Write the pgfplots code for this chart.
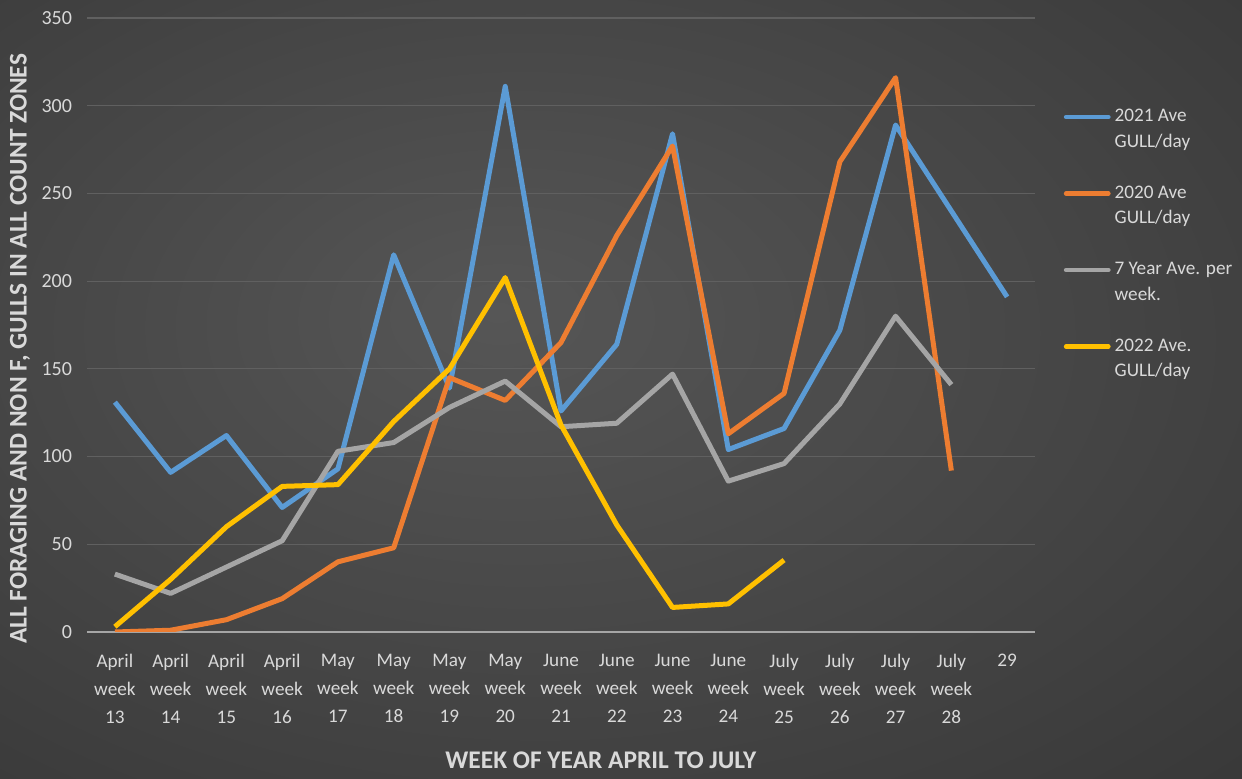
\documentclass[border=0pt]{standalone}
\usepackage{pgfplots}
\pgfplotsset{compat=1.18}
\usepackage{pgfplotstable}
\usepackage{fontspec}
\setmainfont{Carlito}
\definecolor{bgin}{HTML}{565656}
\definecolor{bgout}{HTML}{1E1E1E}
\definecolor{c21}{HTML}{5B9BD5}
\definecolor{c20}{HTML}{ED7D31}
\definecolor{c7}{HTML}{A5A5A5}
\definecolor{c22}{HTML}{FFC000}
\definecolor{tickc}{HTML}{D9D9D9}
\definecolor{gridc}{HTML}{606060}
\definecolor{axc}{HTML}{A6A6A6}
\pgfdeclareradialshading{bgshade}{\pgfpoint{-5bp}{5bp}}{color(0bp)=(bgin); color(74bp)=(bgout)}
\newcommand\legtxt[2]{\raisebox{0pt}[1.3ex][0pt]{\begin{tabular}[t]{@{}l@{}}#1\\#2\end{tabular}}}
\pgfplotstableread{
x  b21 o20 g7 y22
0  131 0   33  3
1  91  1   22  30
2  112 7   37  60
3  71  19  52  83
4  93  40  103 84
5  215 48  108 120
6  139 145 128 150
7  311 132 143 202
8  126 165 117 118
9  164 226 119 61
10 284 277 147 14
11 104 113 86  16
12 116 136 96  41
13 172 268 130 nan
14 289 316 180 nan
15 240 92  141 nan
16 191 nan nan nan
}\datatable
\begin{document}
\begin{tikzpicture}
\shade[shading=bgshade] (-43.5pt,-73.5pt) rectangle (577.5pt,316pt);
\begin{axis}[
  at={(0,0)}, anchor=south west,
  scale only axis, width=474pt, height=307pt,
  xmin=-0.5, xmax=16.5, ymin=0, ymax=350,
  ytick={0,50,...,350},
  xtick={0,...,16},
  xticklabels={{April\\week\\13},{April\\week\\14},{April\\week\\15},{April\\week\\16},
    {May\\week\\17},{May\\week\\18},{May\\week\\19},{May\\week\\20},
    {June\\week\\21},{June\\week\\22},{June\\week\\23},{June\\week\\24},
    {July\\week\\25},{July\\week\\26},{July\\week\\27},{July\\week\\28},{29}},
  axis x line=bottom, axis y line=left,
  axis line style={-},
  x axis line style={draw=axc, line width=0.8pt},
  y axis line style={draw=none},
  major tick length=0pt,
  ymajorgrids, grid style={draw=gridc, line width=0.6pt},
  /pgf/number format/assume math mode=true,
  xticklabel style={align=center, anchor=north, text=tickc, font=\fontsize{9.6}{14}\selectfont, yshift=-7.5pt},
  yticklabel style={anchor=east, text=tickc, font=\fontsize{10}{12}\selectfont, xshift=-4pt},
  ylabel={ALL FORAGING AND NON F, GULLS IN ALL COUNT ZONES},
  ylabel style={at={(axis description cs:-0.0707,0.461)}, anchor=center, text=tickc, font=\bfseries\fontsize{12.7}{15}\selectfont},
  xlabel={WEEK OF YEAR APRIL TO JULY},
  xlabel style={at={(axis description cs:0.542,-0.2085)}, anchor=center, text=tickc, font=\bfseries\fontsize{12.7}{15}\selectfont},
  legend style={at={(axis description cs:1.03,0.858)}, anchor=north west, draw=none, fill=none, inner sep=0pt,
    text=tickc, font=\fontsize{9.6}{12.8}\selectfont, cells={anchor=west}, row sep=26.8pt},
  legend image code/.code={\draw[#1, line width=2.4pt, line cap=round] (0pt,0pt) -- (21pt,0pt);},
  every axis plot/.append style={line width=2.5pt, line join=round, no marks},
]
\addplot[c21] table[x=x, y=b21] {\datatable};
\addlegendentry{\legtxt{2021 Ave}{GULL/day}}
\addplot[c20] table[x=x, y=o20] {\datatable};
\addlegendentry{\legtxt{2020 Ave}{GULL/day}}
\addplot[c7] table[x=x, y=g7] {\datatable};
\addlegendentry{\legtxt{7 Year Ave. per}{week.}}
\addplot[c22] table[x=x, y=y22] {\datatable};
\addlegendentry{\legtxt{2022 Ave.}{GULL/day}}
\end{axis}
\pgfresetboundingbox
\path[use as bounding box] (-43.5pt,-73.5pt) rectangle (577.5pt,316pt);
\end{tikzpicture}
\end{document}
